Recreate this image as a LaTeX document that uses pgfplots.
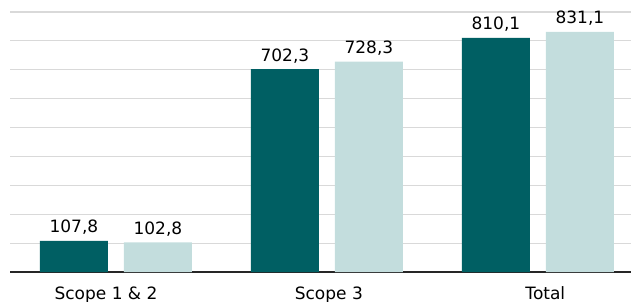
\documentclass[border=0pt]{standalone}
\usepackage{pgfplots}
\pgfplotsset{compat=1.18}
\usepackage{fontspec}
\setmainfont{DejaVu Sans}
\definecolor{darkteal}{HTML}{005F63}
\definecolor{lightteal}{HTML}{C3DDDD}
\definecolor{gridgray}{HTML}{D9D9D9}
\definecolor{baseline}{HTML}{262626}
\begin{document}
\begin{tikzpicture}
\useasboundingbox (-10pt,-29pt) rectangle (621pt,272pt);
\begin{axis}[
  at={(0pt,0pt)}, anchor=south west,
  scale only axis,
  width=621pt, height=260pt,
  xmin=-0.502, xmax=2.441,
  ymin=0, ymax=900,
  ybar=16pt, bar width=68pt,
  axis x line=bottom, axis y line=left,
  y axis line style={draw=none},
  x axis line style={-, draw=baseline, line width=1.4pt},
  major tick length=0pt,
  xtick style={draw=none}, ytick style={draw=none},
  ytick={100,200,...,900},
  yticklabels={},
  ymajorgrids,
  major grid style={draw=gridgray, line width=1.1pt},
  xtick={-0.047,1.009,2.035},
  xticklabels={Scope 1 \& 2, Scope 3, Total},
  xticklabel style={font=\fontsize{17}{20}\selectfont, anchor=base, yshift=-27.7pt, inner sep=0pt},
  /pgf/number format/.cd, use comma, fixed, precision=1, fixed zerofill, assume math mode=true,
  /pgfplots/.cd,
  nodes near coords,
  every node near coord/.append style={font=\fontsize{17}{20}\selectfont, anchor=base, yshift=8pt, inner sep=0pt, text=black},
  clip=false,
]
\addplot[fill=darkteal, draw=none] coordinates {(0,107.8) (1,702.3) (2,810.1)};
\addplot[fill=lightteal, draw=none] coordinates {(0,102.8) (1,728.3) (2,831.1)};
\end{axis}
\end{tikzpicture}
\end{document}
